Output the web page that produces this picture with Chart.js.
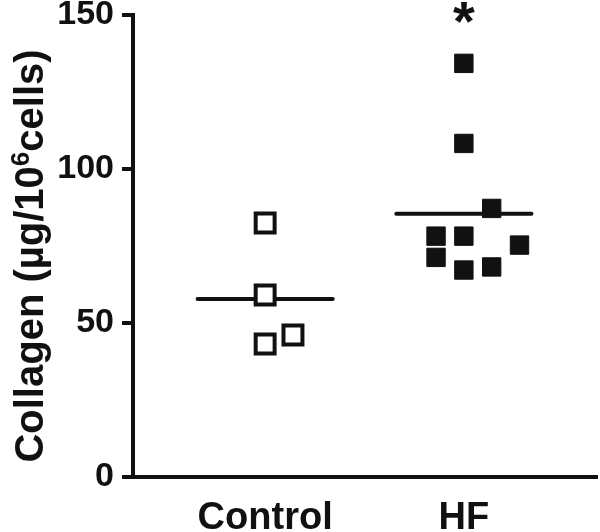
<!DOCTYPE html>
<html>
<head>
<meta charset="utf-8">
<script src="https://cdn.jsdelivr.net/npm/chart.js@4.4.1/dist/chart.umd.min.js"></script>
<style>
  body { margin: 0; background: #fff; }
  #wrap { width: 600px; height: 532px; }
</style>
</head>
<body>
<div id="wrap"><canvas id="chart" width="600" height="532"></canvas></div>
<script>
const groups = ['Control', 'HF'];
const yTicks = [0, 50, 100, 150];

// values per group, with a small sideways jitter in category units
const controlValues = [82.5, 59.1, 43.2, 46.1];
const controlJitter = [0, 0, 0, 0.14];
const hfValues = [134.3, 108.3, 87.2, 78.2, 78.2, 75.3, 71.3, 67.2, 68.2];
const hfJitter = [0, 0, 0.14, -0.14, 0, 0.28, -0.14, 0, 0.14];
const centerLines = [57.8, 85.5];
const lineHalfWidth = 0.34;
const sigMarks = [null, '*'];
const sigLevel = 150;

// y title pieces: [text, superscript?]
const yTitle = [['Collagen (µg/10', false], ['6', true], ['cells)', false]];

const FONT = '"Liberation Sans", Arial, Helvetica, sans-serif';

const toPoints = (values, jitter, pos) => values.map((v, i) => ({ x: pos + jitter[i], y: v }));

const datasets = [
  {
    type: 'scatter',
    data: toPoints(controlValues, controlJitter, 1),
    pointStyle: 'rect',
    pointRadius: 13.4,
    pointHoverRadius: 13.4,
    backgroundColor: '#fff',
    borderColor: '#111',
    borderWidth: 4,
    order: 0
  },
  {
    type: 'scatter',
    data: toPoints(hfValues, hfJitter, 2),
    pointStyle: 'rect',
    pointRadius: 13,
    pointHoverRadius: 13,
    backgroundColor: '#111',
    borderColor: '#111',
    borderWidth: 1,
    order: 0
  }
];

centerLines.forEach((v, i) => {
  datasets.push({
    type: 'line',
    data: [{ x: i + 1 - lineHalfWidth, y: v }, { x: i + 1 + lineHalfWidth, y: v }],
    borderColor: '#111',
    borderWidth: 4,
    borderCapStyle: 'round',
    pointRadius: 0,
    order: 1
  });
});

const textPlugin = {
  id: 'texts',
  afterDraw(chart) {
    const { ctx, scales } = chart;
    ctx.save();
    ctx.fillStyle = '#111';

    // significance star
    const size = 56;
    ctx.font = `bold ${size}px ${FONT}`;
    ctx.textAlign = 'center';
    ctx.textBaseline = 'alphabetic';
    sigMarks.forEach((m, i) => {
      if (!m) return;
      ctx.fillText(m, scales.x.getPixelForValue(i + 1), scales.y.getPixelForValue(sigLevel) + 0.45 * size);
    });

    // rotated y title with superscript
    const tSize = 40;
    const supSize = 26;
    const fontFor = (sup) => `bold ${sup ? supSize : tSize}px ${FONT}`;
    let total = 0;
    yTitle.forEach(([t, sup]) => { ctx.font = fontFor(sup); total += ctx.measureText(t).width; });
    ctx.translate(43, 256);
    ctx.rotate(-Math.PI / 2);
    ctx.textAlign = 'left';
    let x = -total / 2;
    yTitle.forEach(([t, sup]) => {
      ctx.font = fontFor(sup);
      ctx.fillText(t, x, sup ? -14 : 0);
      x += ctx.measureText(t).width;
    });
    ctx.restore();
  }
};

new Chart(document.getElementById('chart'), {
  data: { datasets },
  plugins: [textPlugin],
  options: {
    responsive: false,
    animation: false,
    layout: { autoPadding: false, padding: { top: 15, right: 3, left: 0, bottom: 0 } },
    plugins: { legend: { display: false }, tooltip: { enabled: false } },
    scales: {
      x: {
        type: 'linear',
        min: 0.335,
        max: 2.67,
        afterBuildTicks: (scale) => { scale.ticks = groups.map((g, i) => ({ value: i + 1 })); },
        afterFit: (scale) => {
          scale.height = 55;
          scale.paddingLeft = 0;
          scale.paddingRight = 0;
        },
        ticks: {
          callback: (v) => groups[v - 1],
          color: '#111',
          padding: 19,
          maxRotation: 0,
          font: { family: FONT, size: 38, weight: 'bold' }
        },
        grid: { display: true, drawOnChartArea: false, drawTicks: false },
        border: { display: true, color: '#111', width: 4 }
      },
      y: {
        min: 0,
        max: 150,
        afterBuildTicks: (scale) => { scale.ticks = yTicks.map(v => ({ value: v })); },
        afterFit: (scale) => {
          scale.width = 133;
          scale.paddingTop = 0;
          scale.paddingBottom = 0;
        },
        ticks: {
          color: '#111',
          padding: 8,
          font: { family: FONT, size: 34, weight: 'bold' }
        },
        grid: { drawOnChartArea: false, drawTicks: true, tickLength: 11, color: '#111', lineWidth: 4 },
        border: { display: true, color: '#111', width: 4 }
      }
    }
  }
});
</script>
</body>
</html>
